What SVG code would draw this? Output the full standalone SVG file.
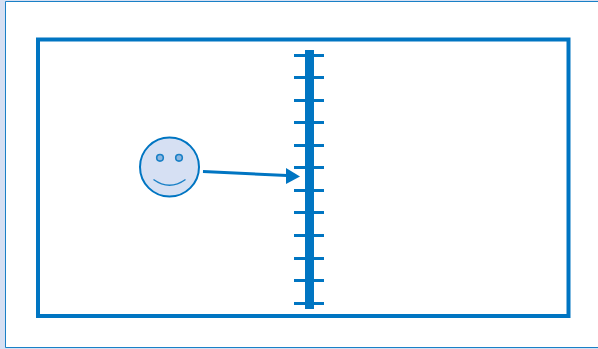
<svg xmlns="http://www.w3.org/2000/svg" width="598" height="349" viewBox="0 0 598 349">
<defs><style>
.b{stroke:#0075c2;fill:none}
.t{stroke:#0075c2;stroke-width:3;fill:none}
</style></defs>
<path fill="#d6e0f3" d="M0 0H598V1H6V348H598V349H0Z"/>
<rect x="6" y="2" width="592" height="345" fill="#fff"/>
<path d="M598 1.500H5.500V347.500H598" fill="none" stroke="#1a80c6" stroke-width="1"/>
<rect id="frame" class="b" x="38" y="39.500" width="530.500" height="276.500" stroke-width="4"/>
<g id="bar">
<rect x="305" y="50" width="9" height="259" fill="#0075c2"/>
<path class="t" d="M294 55.500h30M294 77.500h30M294 100.500h30M294 122.500h30M294 145.500h30M294 167.500h30M294 190.500h30M294 212.500h30M294 235.500h30M294 258.500h30M294 280.500h30M294 303.500h30"/>
</g>
<g id="smiley">
<circle cx="169.500" cy="167" r="29.500" fill="#d6e0f3" stroke="#0075c2" stroke-width="2"/>
<circle cx="160" cy="157.800" r="3.300" fill="#8db7e0" stroke="#1a80c6" stroke-width="1.600"/>
<circle cx="179" cy="157.800" r="3.300" fill="#8db7e0" stroke="#1a80c6" stroke-width="1.600"/>
<path d="M153.500 179.500Q169.500 191 185.500 179.500" fill="none" stroke="#1a80c6" stroke-width="1.400"/>
</g>
<g id="connectors">
<path d="M203 171.500L287 175.500" stroke="#0075c2" stroke-width="3" fill="none"/>
<path d="M286 168L300 176.500L286 184Z" fill="#0075c2"/>
</g>
</svg>
